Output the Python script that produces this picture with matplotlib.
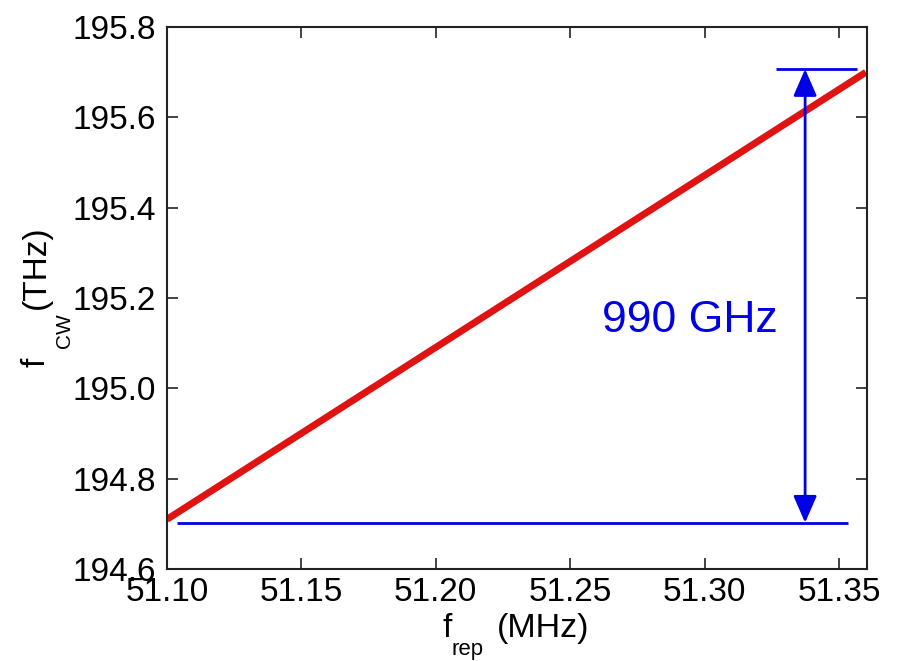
import matplotlib
matplotlib.use('Agg')
import matplotlib.pyplot as plt
import numpy as np

plt.rcParams['font.family'] = ['Liberation Sans', 'DejaVu Sans']

# red tuning line (MHz -> THz)
f_rep = [51.10, 51.36]
f_cw = [194.71, 195.70]

# blue markers of the span
lower_level = 194.7025
lower_span = [51.1037, 51.3533]
upper_level = 195.707
upper_span = [51.3266, 51.3567]
arrow_x = 51.3374
span_label = "990 GHz"

x_ticks = [51.10, 51.15, 51.20, 51.25, 51.30, 51.35]
y_ticks = [194.6, 194.8, 195.0, 195.2, 195.4, 195.6, 195.8]

W, H = 904, 661


def px(x, y):
    # pixel position -> figure fraction
    return x / W, 1 - y / H


fig = plt.figure(figsize=(W / 100, H / 100), dpi=100)
ax = fig.add_axes([0.1847, 0.1392, 0.959 - 0.1847, 0.959 - 0.1392])

ax.plot(f_rep, f_cw, color='#e01212', lw=5, solid_capstyle='butt')
ax.hlines(lower_level, lower_span[0], lower_span[1], color='#0000e6', lw=2)
ax.hlines(upper_level, upper_span[0], upper_span[1], color='#0000e6', lw=2)
ax.annotate('', xy=(arrow_x, upper_level), xytext=(arrow_x, lower_level),
            arrowprops=dict(arrowstyle='<|-|>,head_length=1.65,head_width=0.72',
                            mutation_scale=10, color='#0000e6', lw=2,
                            shrinkA=0, shrinkB=0))
ax.text(51.2946, 195.151, span_label, color='#0000e6', fontsize=32,
        ha='center', va='center')

ax.set_xlim(51.10, 51.3604)
ax.set_ylim(194.6, 195.8)
ax.set_xticks(x_ticks)
ax.set_xticklabels(['%.2f' % v for v in x_ticks])
ax.set_yticks(y_ticks)
ax.set_yticklabels(['%.1f' % v for v in y_ticks])
ax.tick_params(direction='in', length=8, width=1.2, top=True, right=True,
               labelsize=24, colors='#222222', labelcolor='black')
ax.tick_params(axis='x', pad=6)
ax.tick_params(axis='y', pad=8)
for s in ax.spines.values():
    s.set_linewidth(1.5)
    s.set_color('#222222')

# axis labels with a deep subscript, as in the original
fig.text(*px(443, 637), 'f', fontsize=24, ha='left', va='baseline')
fig.text(*px(452, 655), 'rep', fontsize=16, ha='left', va='baseline')
fig.text(*px(497, 637), '(MHz)', fontsize=24.5, ha='left', va='baseline')

fig.text(*px(45, 367), 'f', fontsize=24, rotation=90, rotation_mode='anchor',
         ha='left', va='baseline')
fig.text(*px(70, 348), 'CW', fontsize=15, rotation=90, rotation_mode='anchor',
         ha='left', va='baseline')
fig.text(*px(45, 309), '(THz)', fontsize=24, rotation=90, rotation_mode='anchor',
         ha='left', va='baseline')

fig.savefig('out.png', dpi=100)
